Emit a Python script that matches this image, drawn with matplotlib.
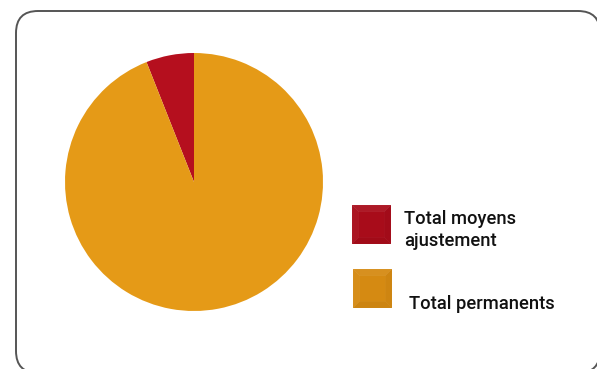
import matplotlib.pyplot as plt
from matplotlib.patches import FancyBboxPatch, Rectangle, Polygon

# data
labels = ["Total moyens\najustement", "Total permanents"]
values = [6, 94]
colors = ["#B50F1E", "#E59A17"]
legend_colors = ["#A80C1A", "#D58A12"]

W, H = 597, 369
fig = plt.figure(figsize=(W / 100, H / 100), dpi=100)

# overlay axes in pixel units for frame and legend
bg = fig.add_axes([0, 0, 1, 1])
bg.set_xlim(0, W)
bg.set_ylim(H, 0)
bg.axis("off")

# soft shadow + rounded frame
fw, fh = 584, 362
for off, a in [(4, 0.06), (3, 0.10), (2, 0.16)]:
    bg.add_patch(FancyBboxPatch((16 + off, 11 + off), fw, fh,
                                boxstyle="round,pad=0,rounding_size=22",
                                fc="none", ec="black", lw=1.5, alpha=a))
bg.add_patch(FancyBboxPatch((16, 11), fw, fh,
                            boxstyle="round,pad=0,rounding_size=22",
                            fc="white", ec="#555555", lw=1.4))

# pie
ax = fig.add_axes([65 / W, 1 - 311 / H, 258 / W, 258 / H])
ax.pie(values, colors=colors, startangle=90, counterclock=True,
       wedgeprops=dict(linewidth=0))
ax.set_xlim(-1, 1)
ax.set_ylim(-1, 1)
ax.set_aspect("equal")


def bevel_square(x, y, s, color):
    # square marker with a faint bevelled rim
    bg.add_patch(Rectangle((x, y), s, s, fc=color, ec="none"))
    b = s * 0.17
    rims = [
        [(x, y), (x + s, y), (x + s - b, y + b), (x + b, y + b)],
        [(x, y), (x + b, y + b), (x + b, y + s - b), (x, y + s)],
        [(x + s, y), (x + s, y + s), (x + s - b, y + s - b), (x + s - b, y + b)],
        [(x, y + s), (x + b, y + s - b), (x + s - b, y + s - b), (x + s, y + s)],
    ]
    shades = [0.06, 0.04, -0.03, -0.04]
    for pts, sh in zip(rims, shades):
        bg.add_patch(Polygon(pts, closed=True, fc="white" if sh > 0 else "black",
                             alpha=abs(sh), ec="white", lw=0.5))


bevel_square(352, 205, 39, legend_colors[0])
bevel_square(353, 269, 39, legend_colors[1])

bg.text(404, 230, labels[0], fontsize=13.2, family="Roboto", weight="medium",
        va="center", ha="left", color="#111111", linespacing=1.25)
bg.text(409, 304, labels[1], fontsize=13.2, family="Roboto", weight="medium",
        va="center", ha="left", color="#111111")

fig.savefig("out.png", dpi=100)
